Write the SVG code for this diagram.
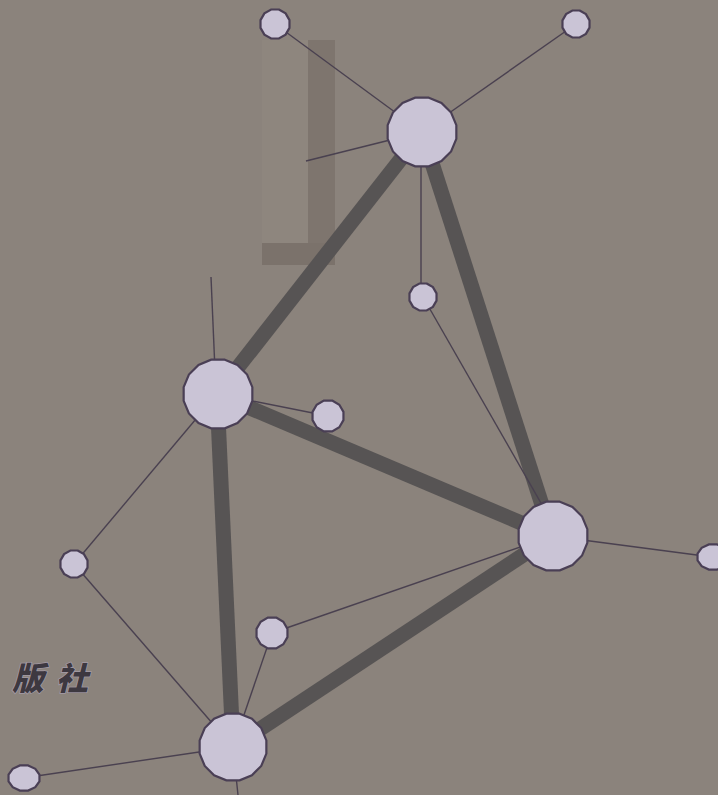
<svg xmlns="http://www.w3.org/2000/svg" xmlns:xlink="http://www.w3.org/1999/xlink" width="718" height="795" viewBox="0 0 718 795">
<style>
.bg{fill:#8b837c}
.thick{stroke:#575454;stroke-width:15;stroke-linecap:butt;fill:none}
.thin{stroke:#4a4150;stroke-width:1.4;fill:none}
.node{fill:#cac4d6;stroke:#4a3f55;stroke-width:2.2}
.cjk{font-family:"Noto Sans CJK SC","Noto Sans CJK TC",sans-serif;font-size:32px;font-weight:900;font-style:italic;fill:#3d3840;stroke:#a39aa6;stroke-width:1.5;paint-order:stroke}
</style>
<defs>
<polygon id="oct" points="0.259,-0.966 0.707,-0.707 0.966,-0.259 0.966,0.259 0.707,0.707 0.259,0.966 -0.259,0.966 -0.707,0.707 -0.966,0.259 -0.966,-0.259 -0.707,-0.707 -0.259,-0.966" class="node" vector-effect="non-scaling-stroke"/>
<polygon id="hex16" points="0.195,-0.981 0.556,-0.831 0.831,-0.556 0.981,-0.195 0.981,0.195 0.831,0.556 0.556,0.831 0.195,0.981 -0.195,0.981 -0.556,0.831 -0.831,0.556 -0.981,0.195 -0.981,-0.195 -0.831,-0.556 -0.556,-0.831 -0.195,-0.981" class="node" vector-effect="non-scaling-stroke"/>
</defs>
<rect class="bg" x="0" y="0" width="718" height="795"/>
<g id="ghost">
<rect x="262" y="40" width="46" height="210" fill="#8e867e"/>
<rect x="308" y="40" width="27" height="215" fill="#7e756e"/>
<rect x="262" y="243" width="73" height="22" fill="#7b726b"/>
</g>
<g id="connectors">
<line class="thick" x1="422" y1="132" x2="217" y2="394"/>
<line class="thick" x1="422" y1="132" x2="552" y2="536"/>
<line class="thick" x1="217" y1="394" x2="552" y2="536"/>
<line class="thick" x1="217" y1="394" x2="233" y2="747"/>
<line class="thick" x1="552" y1="536" x2="233" y2="747"/>
<line class="thin" x1="422" y1="132" x2="275" y2="24"/>
<line class="thin" x1="422" y1="132" x2="576" y2="24"/>
<line class="thin" x1="422" y1="132" x2="306" y2="161"/>
<line class="thin" x1="421" y1="132" x2="421" y2="297"/>
<line class="thin" x1="423" y1="297" x2="545" y2="510"/>
<line class="thin" x1="211" y1="277" x2="216" y2="394"/>
<line class="thin" x1="217" y1="394" x2="328" y2="416"/>
<line class="thin" x1="217" y1="394" x2="74" y2="564"/>
<line class="thin" x1="74" y1="564" x2="233" y2="747"/>
<line class="thin" x1="233" y1="747" x2="272" y2="633"/>
<line class="thin" x1="272" y1="633" x2="552" y2="536"/>
<line class="thin" x1="552" y1="536" x2="712" y2="557"/>
<line class="thin" x1="233" y1="747" x2="23" y2="778"/>
<line class="thin" x1="233" y1="747" x2="238" y2="795"/>
</g>
<g id="nA"><use xlink:href="#hex16" transform="translate(422,132) scale(35)"/></g>
<g id="nB"><use xlink:href="#hex16" transform="translate(218,394) scale(35)"/></g>
<g id="nC"><use xlink:href="#hex16" transform="translate(553,536) scale(35)"/></g>
<g id="nD"><use xlink:href="#hex16" transform="translate(233,747) scale(34)"/></g>
<g id="n1"><use xlink:href="#oct" transform="translate(275,24) scale(15)"/></g>
<g id="n2"><use xlink:href="#oct" transform="translate(576,24) scale(14)"/></g>
<g id="n3"><use xlink:href="#oct" transform="translate(423,297) scale(14)"/></g>
<g id="n4"><use xlink:href="#oct" transform="translate(328,416) scale(16)"/></g>
<g id="n5"><use xlink:href="#oct" transform="translate(74,564) scale(14)"/></g>
<g id="n6"><use xlink:href="#oct" transform="translate(272,633) scale(16)"/></g>
<g id="n7"><use xlink:href="#oct" transform="translate(24,778) scale(16,13)"/></g>
<g id="n8"><use xlink:href="#oct" transform="translate(713,557) scale(16,13)"/></g>
<g id="label"><text class="cjk" x="12" y="690" letter-spacing="12">版社</text></g>
</svg>
